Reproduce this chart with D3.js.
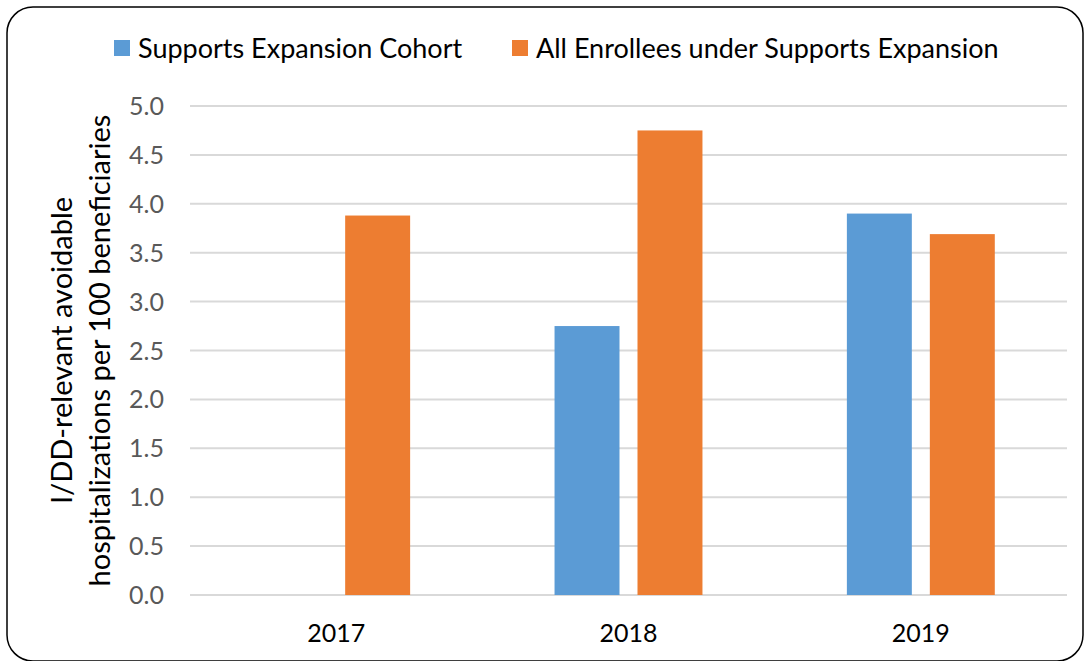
<!DOCTYPE html>
<html><head><meta charset="utf-8">
<script src="https://cdn.jsdelivr.net/npm/d3@7"></script>
<style>body{margin:0;background:#fff;} svg{display:block;font-family:Lato, "Open Sans", sans-serif;}</style>
</head><body>
<svg id="c" width="1087" height="661"></svg>
<script>
const categories = ["2017", "2018", "2019"];
const seriesNames = ["Supports Expansion Cohort", "All Enrollees under Supports Expansion"];
const cohortValues = [null, 2.75, 3.90];
const allEnrolleeValues = [3.88, 4.75, 3.69];
const yTicks = [0, 0.5, 1.0, 1.5, 2.0, 2.5, 3.0, 3.5, 4.0, 4.5, 5.0];
const colors = ["#5b9bd5", "#ed7d31"];
const yLabelLines = ["I/DD-relevant avoidable", "hospitalizations per 100 beneficiaries"];

(function () {
const svg = d3.select("#c");
svg.append("rect").attr("x", 7).attr("y", 7).attr("width", 1076).attr("height", 654)
  .attr("rx", 26).attr("fill", "#fff").attr("stroke", "#000").attr("stroke-width", 1.5);

const pl = 190, pr = 1067, pt = 106, pb = 595;
const x0 = d3.scaleBand().domain(categories).range([pl, pr]).paddingInner(0.494).paddingOuter(0.247);
const x1 = d3.scaleBand().domain(seriesNames).range([0, x0.bandwidth()]).paddingInner(0.217);
const y = d3.scaleLinear().domain([0, 5]).range([pb, pt]);

svg.append("g").selectAll("line").data(yTicks).join("line")
  .attr("x1", pl).attr("x2", pr)
  .attr("y1", d => y(d)).attr("y2", d => y(d))
  .attr("stroke", "#d9d9d9").attr("stroke-width", 2);

svg.append("g").selectAll("text").data(yTicks).join("text")
  .attr("x", 164).attr("y", d => y(d)).attr("dy", "0.36em")
  .attr("text-anchor", "end").attr("fill", "#595959").attr("font-size", 25)
  .text(d => d.toFixed(1));

const rows = categories.map((c, i) => ({c, vals: [cohortValues[i], allEnrolleeValues[i]]}));
const g = svg.append("g").selectAll("g").data(rows).join("g")
  .attr("transform", d => `translate(${x0(d.c)},0)`);
g.selectAll("rect").data(d => d.vals.map((v, j) => ({v, s: seriesNames[j], j})).filter(e => e.v != null))
  .join("rect")
  .attr("x", e => x1(e.s)).attr("width", x1.bandwidth())
  .attr("y", e => y(e.v)).attr("height", e => y(0) - y(e.v))
  .attr("fill", e => colors[e.j]);

svg.append("g").selectAll("text").data(categories).join("text")
  .attr("x", d => x0(d) + x0.bandwidth() / 2).attr("y", 642)
  .attr("text-anchor", "middle").attr("fill", "#000").attr("font-size", 25)
  .text(d => d);

const yl = svg.append("text").attr("transform", `translate(0,${(pt + pb) / 2}) rotate(-90)`)
  .attr("text-anchor", "middle").attr("font-size", 29).attr("fill", "#000");
yl.append("tspan").attr("x", 0).attr("y", 72).text(yLabelLines[0]);
yl.append("tspan").attr("x", 0).attr("y", 110).text(yLabelLines[1]);

const legX = [114, 512];
const leg = svg.append("g").selectAll("g").data(seriesNames).join("g")
  .attr("transform", (d, i) => `translate(${legX[i]},40)`);
leg.append("rect").attr("width", 16).attr("height", 16).attr("fill", (d, i) => colors[i]);
leg.append("text").attr("x", 24).attr("y", 8).attr("dy", "0.36em")
  .attr("font-size", 27).attr("fill", "#000").text(d => d);
})();
</script>
</body></html>
